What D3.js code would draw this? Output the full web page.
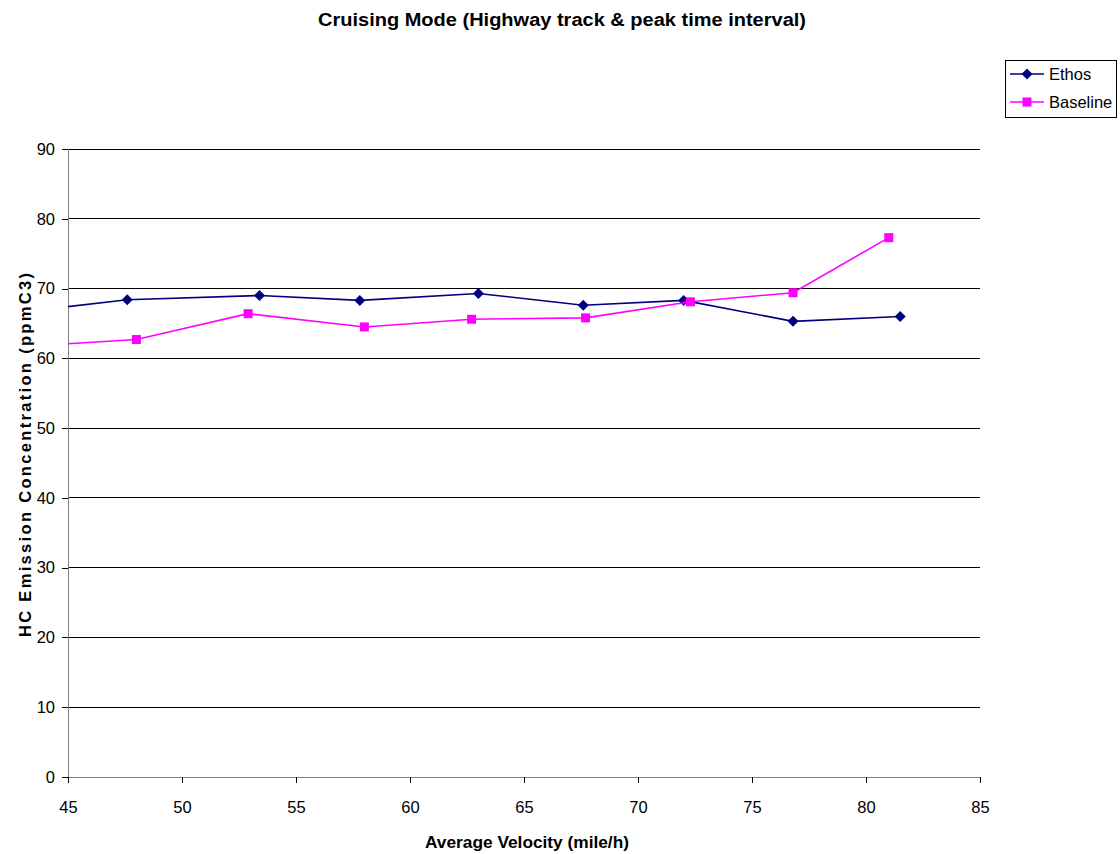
<!DOCTYPE html>
<html>
<head>
<meta charset="utf-8">
<script src="https://cdn.jsdelivr.net/npm/d3@7"></script>
<style>
  body { margin: 0; background: #fff; }
  svg { display: block; font-family: "Liberation Sans", Arial, sans-serif; }
</style>
</head>
<body>
<svg id="chart" width="1120" height="854"></svg>
<script>
// Average velocity (mile/h) and HC concentration (ppmC3) per run
const ethosVelocity = [42.9, 47.6, 53.4, 57.8, 63.0, 67.6, 72.0, 76.8, 81.5];
const ethosHC       = [66.6, 68.4, 69.0, 68.3, 69.3, 67.6, 68.3, 65.3, 66.0];
const baseVelocity  = [43.1, 48.0, 52.9, 58.0, 62.7, 67.7, 72.3, 76.8, 81.0];
const baseHC        = [61.7, 62.7, 66.4, 64.5, 65.6, 65.8, 68.1, 69.4, 77.3];
const xTicks = [45, 50, 55, 60, 65, 70, 75, 80, 85];
const yTicks = [0, 10, 20, 30, 40, 50, 60, 70, 80, 90];

const series = [
  { name: "Ethos", color: "#000080", marker: "diamond",
    points: ethosVelocity.map((v, i) => ({ x: v, y: ethosHC[i] })) },
  { name: "Baseline", color: "#FF00FF", marker: "square",
    points: baseVelocity.map((v, i) => ({ x: v, y: baseHC[i] })) }
];

const svg = d3.select("#chart");
const plotLeft = 68, plotRight = 980, plotTop = 149, plotBottom = 777;

const x = d3.scaleLinear().domain([45, 85]).range([plotLeft, plotRight]);
const y = d3.scaleLinear().domain([0, 90]).range([plotBottom, plotTop]);

// Title
svg.append("text")
  .attr("x", 562).attr("y", 26)
  .attr("text-anchor", "middle")
  .attr("font-size", 18).attr("font-weight", "bold")
  .attr("textLength", 488).attr("lengthAdjust", "spacingAndGlyphs")
  .text("Cruising Mode (Highway track & peak time interval)");

// Horizontal gridlines
svg.append("g")
  .selectAll("line")
  .data(yTicks.filter(d => d > 0))
  .join("line")
  .attr("x1", plotLeft).attr("x2", plotRight)
  .attr("y1", d => y(d)).attr("y2", d => y(d))
  .attr("stroke", "#000").attr("stroke-width", 1)
  .attr("shape-rendering", "crispEdges");

// Axes
const yAxis = svg.append("g")
  .attr("transform", `translate(${plotLeft},0)`)
  .call(d3.axisLeft(y).tickValues(yTicks).tickSize(6).tickPadding(7).tickFormat(d3.format("d")));
const xAxis = svg.append("g")
  .attr("transform", `translate(0,${plotBottom})`)
  .call(d3.axisBottom(x).tickValues(xTicks).tickSize(6).tickPadding(18).tickFormat(d3.format("d")));

[yAxis, xAxis].forEach(g => {
  g.select(".domain").attr("stroke", "#808080").attr("shape-rendering", "crispEdges");
  g.selectAll(".tick line").attr("stroke", "#000").attr("shape-rendering", "crispEdges");
  g.selectAll(".tick text").attr("font-size", 16.5).attr("fill", "#000")
    .attr("font-family", "'Liberation Sans', Arial, sans-serif");
});
// remove the outer end caps of the domain path
yAxis.select(".domain").attr("d", `M0,${plotBottom}V${plotTop}`);
xAxis.select(".domain").attr("d", `M${plotLeft},0H${plotRight}`);

// Axis titles
svg.append("text")
  .attr("x", 527).attr("y", 848)
  .attr("text-anchor", "middle")
  .attr("font-size", 17).attr("font-weight", "bold")
  .attr("textLength", 204).attr("lengthAdjust", "spacingAndGlyphs")
  .text("Average Velocity (mile/h)");
svg.append("text")
  .attr("transform", "translate(31,455) rotate(-90)")
  .attr("text-anchor", "middle")
  .attr("font-size", 16.5).attr("font-weight", "bold")
  .attr("textLength", 364).attr("lengthAdjust", "spacing")
  .text("HC Emission Concentration (ppmC3)");

// Clip series to the plot area
svg.append("clipPath").attr("id", "plot-clip")
  .append("rect")
  .attr("x", plotLeft).attr("y", plotTop - 10)
  .attr("width", plotRight - plotLeft + 10).attr("height", plotBottom - plotTop + 10);

const line = d3.line().x(d => x(d.x)).y(d => y(d.y));

function markerPath(type, cx, cy) {
  if (type === "diamond") {
    const r = 5.5;
    return `M${cx},${cy - r}L${cx + r},${cy}L${cx},${cy + r}L${cx - r},${cy}Z`;
  }
  const h = 4.5;
  return `M${cx - h},${cy - h}H${cx + h}V${cy + h}H${cx - h}Z`;
}

const plot = svg.append("g").attr("clip-path", "url(#plot-clip)");
series.forEach(s => {
  plot.append("path")
    .datum(s.points)
    .attr("fill", "none")
    .attr("stroke", s.color)
    .attr("stroke-width", 1.6)
    .attr("d", line);
  plot.append("g")
    .selectAll("path")
    .data(s.points.filter(p => p.x >= 45))
    .join("path")
    .attr("d", p => markerPath(s.marker, x(p.x), y(p.y)))
    .attr("fill", s.color);
});

// Legend
const legend = svg.append("g").attr("transform", "translate(1005,60)");
legend.append("rect")
  .attr("x", 0.5).attr("y", 0.5).attr("width", 111).attr("height", 57)
  .attr("fill", "#fff").attr("stroke", "#000").attr("stroke-width", 1);
series.forEach((s, i) => {
  const cy = 14 + i * 28;
  legend.append("line")
    .attr("x1", 5).attr("x2", 39).attr("y1", cy).attr("y2", cy)
    .attr("stroke", s.color).attr("stroke-width", 1.6);
  legend.append("path")
    .attr("d", markerPath(s.marker, 22, cy))
    .attr("fill", s.color);
  legend.append("text")
    .attr("x", 44).attr("y", cy + 6)
    .attr("font-size", 16.5)
    .text(s.name);
});
</script>
</body>
</html>
